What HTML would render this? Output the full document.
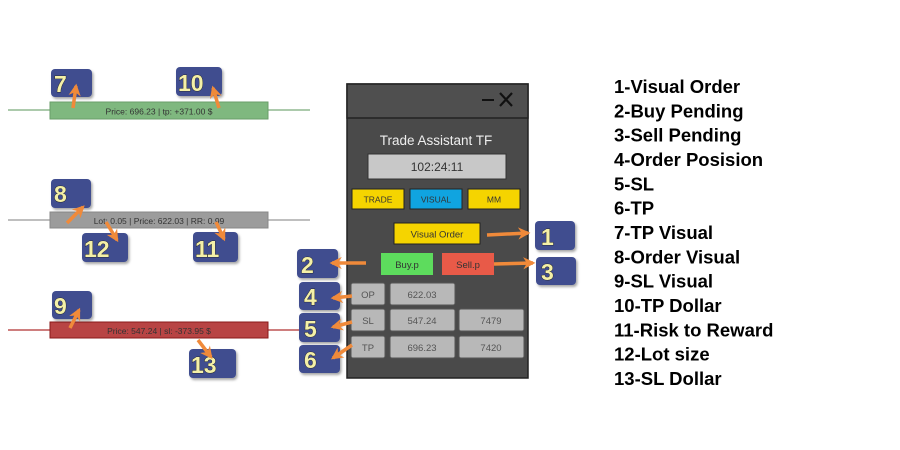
<!DOCTYPE html>
<html><head><meta charset="utf-8"><style>
html,body{margin:0;padding:0;background:#fff;}
svg{display:block;font-family:"Liberation Sans",Arial,sans-serif;}
</style></head><body>
<svg width="900" height="450" viewBox="0 0 900 450" xmlns="http://www.w3.org/2000/svg">
<defs>
<filter id="sh" x="-20%" y="-20%" width="150%" height="150%"><feDropShadow dx="1.5" dy="2" stdDeviation="1.2" flood-color="#000" flood-opacity="0.35"/></filter>
<marker id="ah" viewBox="0 0 10 10" refX="8" refY="5" markerWidth="3.5" markerHeight="3.5" orient="auto"><path d="M0,0 L10,5 L0,10 L3,5 Z" fill="#f08a3a"/></marker>
</defs>
<line x1="8" y1="110" x2="310" y2="110" stroke="#7aab7a" stroke-width="1.2"/>
<rect x="50" y="102" width="218" height="17" fill="#7fb87f" stroke="#6a9e6a"/>
<text x="159" y="114.5" font-size="8.5" text-anchor="middle" fill="#333">Price: 696.23 | tp: +371.00 $</text>
<line x1="8" y1="220" x2="310" y2="220" stroke="#999" stroke-width="1.2"/>
<rect x="50" y="212" width="218" height="16" fill="#9c9c9c" stroke="#888"/>
<text x="159" y="224" font-size="8.5" text-anchor="middle" fill="#333">Lot: 0.05 | Price: 622.03 | RR: 0.99</text>
<line x1="8" y1="330" x2="310" y2="330" stroke="#b03030" stroke-width="1.2"/>
<rect x="50" y="322" width="218" height="16" fill="#b84444" stroke="#8a1a1a"/>
<text x="159" y="334" font-size="8.5" text-anchor="middle" fill="#333">Price: 547.24 | sl: -373.95 $</text>

<rect x="347" y="84" width="181" height="294" fill="#4a4a4a" stroke="#222" stroke-width="1.5"/>
<rect x="347" y="84" width="181" height="34" fill="#4f4f4f" stroke="#222" stroke-width="1.5"/>
<line x1="482" y1="100" x2="494" y2="100" stroke="#111" stroke-width="2"/>
<path d="M500,93 L512,106 M512,93 L500,106" stroke="#111" stroke-width="2.2"/>
<text x="436" y="145" font-size="13.5" text-anchor="middle" fill="#eee">Trade Assistant TF</text>
<rect x="368" y="154" width="138" height="25" fill="#c8c8c8" stroke="#333"/>
<text x="437" y="171" font-size="12" text-anchor="middle" fill="#333">102:24:11</text>
<rect x="352" y="189" width="52" height="20" fill="#f5d400" stroke="#222"/>
<text x="378" y="202.5" font-size="8.5" text-anchor="middle" fill="#333">TRADE</text>
<rect x="410" y="189" width="52" height="20" fill="#10a4e0" stroke="#222"/>
<text x="436" y="202.5" font-size="8.5" text-anchor="middle" fill="#333">VISUAL</text>
<rect x="468" y="189" width="52" height="20" fill="#f5d400" stroke="#222"/>
<text x="494" y="202.5" font-size="8.5" text-anchor="middle" fill="#333">MM</text>
<rect x="394" y="223" width="86" height="21" fill="#f5d400" stroke="#222"/>
<text x="437" y="237.5" font-size="9.5" text-anchor="middle" fill="#333">Visual Order</text>
<rect x="381" y="253" width="52" height="22" fill="#5ddc5d"/>
<text x="407" y="268" font-size="9.5" text-anchor="middle" fill="#333">Buy.p</text>
<rect x="442" y="253" width="52" height="22" fill="#e85a48"/>
<text x="468" y="268" font-size="9.5" text-anchor="middle" fill="#333">Sell.p</text>
<g fill="#b8b8b8" stroke="#555">
<rect x="351" y="283" width="34" height="22" rx="2"/>
<rect x="390" y="283" width="65" height="22" rx="2"/>
<rect x="351" y="309" width="34" height="22" rx="2"/>
<rect x="390" y="309" width="65" height="22" rx="2"/>
<rect x="459" y="309" width="65" height="22" rx="2"/>
<rect x="351" y="336" width="34" height="22" rx="2"/>
<rect x="390" y="336" width="65" height="22" rx="2"/>
<rect x="459" y="336" width="65" height="22" rx="2"/>
</g>
<g font-size="9.5" fill="#555" text-anchor="middle">
<text x="368" y="298">OP</text><text x="422" y="298">622.03</text>
<text x="368" y="324">SL</text><text x="422" y="324">547.24</text><text x="491" y="324">7479</text>
<text x="368" y="351">TP</text><text x="422" y="351">696.23</text><text x="491" y="351">7420</text>
</g>

<g fill="#3f4d8f" filter="url(#sh)">
<rect x="51" y="69" width="41" height="28" rx="4"/>
<rect x="176" y="67" width="46" height="29" rx="4"/>
<rect x="51" y="179" width="40" height="29" rx="4"/>
<rect x="82" y="233" width="46" height="29" rx="4"/>
<rect x="193" y="232" width="45" height="30" rx="4"/>
<rect x="52" y="291" width="40" height="28" rx="4"/>
<rect x="189" y="349" width="47" height="29" rx="4"/>
<rect x="535" y="221" width="40" height="29" rx="4"/>
<rect x="536" y="257" width="40" height="28" rx="4"/>
<rect x="297" y="249" width="41" height="29" rx="4"/>
<rect x="299" y="282" width="41" height="28" rx="4"/>
<rect x="299" y="313" width="41" height="29" rx="4"/>
<rect x="299" y="345" width="41" height="28" rx="4"/>
</g>
<g font-size="23" font-weight="bold" fill="#f4f0a8" stroke="#222" stroke-width="0.8" paint-order="stroke">
<text x="54" y="92">7</text>
<text x="178" y="91">10</text>
<text x="54" y="202">8</text>
<text x="84" y="257">12</text>
<text x="195" y="257">11</text>
<text x="54" y="314">9</text>
<text x="191" y="373">13</text>
<text x="541" y="245">1</text>
<text x="541" y="280">3</text>
<text x="301" y="273">2</text>
<text x="304" y="305">4</text>
<text x="304" y="337">5</text>
<text x="304" y="368">6</text>
</g>

<g stroke="#f08a3a" stroke-width="3.5" fill="none" marker-end="url(#ah)">
<line x1="73" y1="108" x2="76" y2="86"/>
<line x1="219" y1="108" x2="213" y2="88"/>
<line x1="67" y1="223" x2="83" y2="207"/>
<line x1="106" y1="222" x2="117" y2="240"/>
<line x1="216" y1="222" x2="224" y2="239"/>
<line x1="70" y1="328" x2="79" y2="310"/>
<line x1="198" y1="340" x2="211" y2="357"/>
<line x1="487" y1="235" x2="528" y2="233"/>
<line x1="494" y1="264" x2="533" y2="263"/>
<line x1="366" y1="263" x2="332" y2="263"/>
<line x1="352" y1="296" x2="333" y2="298"/>
<line x1="352" y1="322" x2="333" y2="327"/>
<line x1="352" y1="345" x2="333" y2="358"/>
</g>

<g font-size="18.5" font-weight="bold" fill="#000">
<text x="614" y="93">1-Visual Order</text>
<text x="614" y="117.3">2-Buy Pending</text>
<text x="614" y="141.6">3-Sell Pending</text>
<text x="614" y="166">4-Order Posision</text>
<text x="614" y="190.3">5-SL</text>
<text x="614" y="214.6">6-TP</text>
<text x="614" y="239">7-TP Visual</text>
<text x="614" y="263.3">8-Order Visual</text>
<text x="614" y="287.6">9-SL Visual</text>
<text x="614" y="312">10-TP Dollar</text>
<text x="614" y="336.3">11-Risk to Reward</text>
<text x="614" y="360.6">12-Lot size</text>
<text x="614" y="385">13-SL Dollar</text>
</g>
</svg>
</body></html>
